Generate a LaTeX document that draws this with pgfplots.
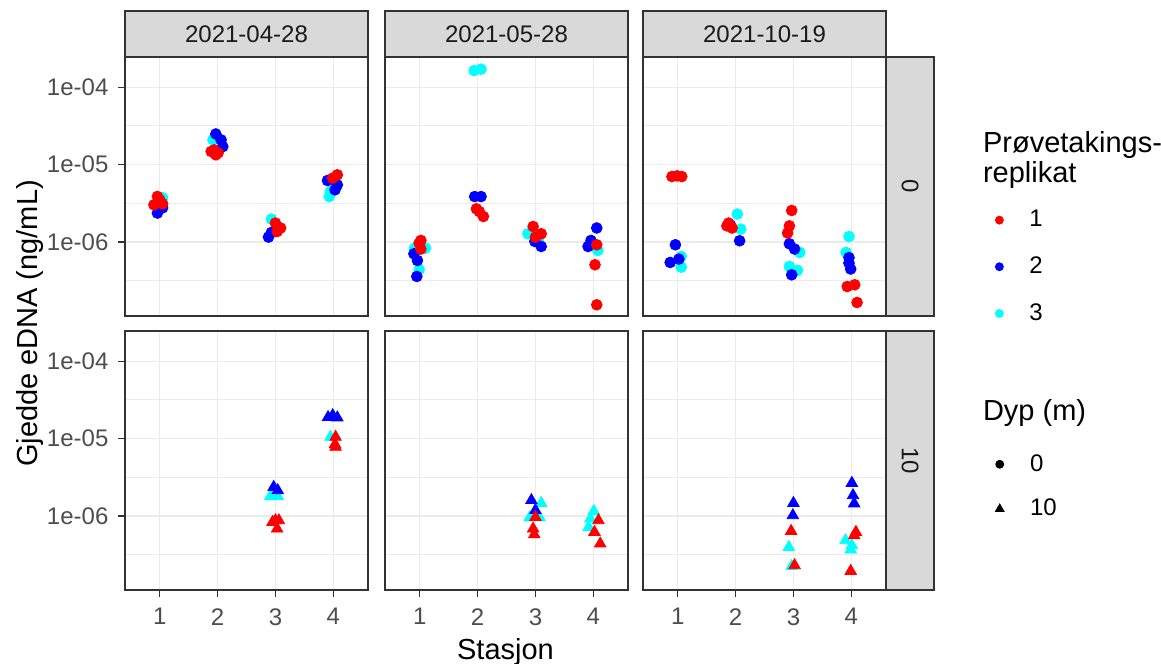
\documentclass[border=0pt]{standalone}
\usepackage{fontspec}
\setmainfont{Liberation Sans}
\usepackage{pgfplots}
\usepackage{pgfplotstable}
\pgfplotsset{compat=1.18}

\definecolor{rep1}{HTML}{FF0000}
\definecolor{rep2}{HTML}{0000FF}
\definecolor{rep3}{HTML}{00FFFF}
\definecolor{gridgrey}{HTML}{EBEBEB}
\definecolor{framegrey}{HTML}{333333}
\definecolor{tickgrey}{HTML}{4D4D4D}
\definecolor{stripgrey}{HTML}{D9D9D9}
\definecolor{striptext}{HTML}{1A1A1A}

\newcommand{\ticksize}{\fontsize{12bp}{14bp}\selectfont}
\newcommand{\titlesize}{\fontsize{14.5bp}{17bp}\selectfont}

% x = stasjon (with jitter), y = eDNA (ng/mL), r = replikat
% depth 0 m
\pgfplotstableread{
x y r
1.05 3.73e-6 3
0.96 2.37e-6 2
1.05 2.77e-6 2
0.96 3.88e-6 1
0.90 3.03e-6 1
1.05 3.12e-6 1
1.00 3.52e-6 1
1.92 2.09e-5 3
1.97 2.49e-5 2
2.06 2.09e-5 2
2.09 1.71e-5 2
1.94 1.55e-5 1
1.89 1.48e-5 1
1.97 1.34e-5 1
2.01 1.42e-5 1
2.93 1.98e-6 3
2.93 1.33e-6 2
2.88 1.16e-6 2
3.00 1.76e-6 1
3.09 1.52e-6 1
3.03 1.37e-6 1
3.95 4.50e-6 3
3.93 3.87e-6 3
3.90 6.24e-6 2
4.07 5.48e-6 2
4.03 4.73e-6 2
4.07 7.38e-6 1
3.99 6.70e-6 1
}\dataAzero
\pgfplotstableread{
x y r
1.10 8.38e-7 3
0.99 4.40e-7 3
0.91 8.30e-7 3
0.90 7.06e-7 2
0.96 5.79e-7 2
0.95 3.60e-7 2
1.02 1.05e-6 1
0.99 9.70e-7 1
1.02 8.13e-7 1
1.94 1.64e-4 3
2.06 1.71e-4 3
1.95 3.87e-6 2
2.06 3.87e-6 2
2.03 2.48e-6 1
2.10 2.14e-6 1
1.98 2.69e-6 1
2.87 1.28e-6 3
3.05 1.04e-6 3
2.99 1.02e-6 2
3.10 8.77e-7 2
2.96 1.59e-6 1
3.10 1.28e-6 1
3.00 1.16e-6 1
4.08 7.80e-7 3
4.06 1.52e-6 2
3.96 1.05e-6 2
3.91 8.77e-7 2
4.06 9.23e-7 1
4.03 5.09e-7 1
4.06 1.55e-7 1
}\dataBzero
\pgfplotstableread{
x y r
1.06 6.52e-7 3
1.06 4.75e-7 3
0.96 9.23e-7 2
1.02 6.04e-7 2
0.87 5.46e-7 2
0.90 7.02e-6 1
0.99 7.16e-6 1
1.07 7.02e-6 1
2.03 2.30e-6 3
2.09 1.47e-6 3
2.07 1.04e-6 2
1.91 1.66e-6 2
1.88 1.76e-6 1
1.94 1.52e-6 1
1.85 1.62e-6 1
3.11 7.35e-7 3
2.93 4.84e-7 3
3.07 4.31e-7 3
2.93 9.51e-7 2
3.02 8.13e-7 2
2.97 3.78e-7 2
2.97 2.56e-6 1
2.93 1.62e-6 1
2.90 1.31e-6 1
3.96 1.18e-6 3
3.91 7.35e-7 3
3.96 5.36e-7 2
3.99 4.49e-7 2
3.96 6.30e-7 2
3.93 2.67e-7 1
4.06 2.81e-7 1
4.10 1.66e-7 1
}\dataCzero
% depth 10 m
\pgfplotstableread{
x y r
2.91 1.80e-6 3
3.04 1.80e-6 3
2.97 2.37e-6 2
3.04 2.15e-6 2
3.00 8.79e-7 1
2.95 8.36e-7 1
3.06 8.79e-7 1
3.03 6.87e-7 1
3.95 1.05e-5 3
3.99 2.00e-5 2
4.07 1.87e-5 2
3.91 1.89e-5 2
4.04 1.05e-5 1
4.03 8.45e-6 1
4.04 7.80e-6 1
}\dataAten
\pgfplotstableread{
x y r
3.10 1.47e-6 3
2.90 9.53e-7 3
3.07 9.60e-7 3
2.93 1.60e-6 2
3.00 1.19e-6 2
3.00 9.70e-7 1
2.96 6.87e-7 1
2.98 5.79e-7 1
4.01 1.16e-6 3
3.95 9.25e-7 3
3.92 7.21e-7 3
4.09 8.79e-7 1
4.02 6.21e-7 1
4.12 4.40e-7 1
}\dataBten
\pgfplotstableread{
x y r
2.92 3.97e-7 3
2.97 2.25e-7 3
3.00 1.47e-6 2
2.99 1.02e-6 2
2.96 6.40e-7 1
3.02 2.31e-7 1
3.90 4.85e-7 3
3.99 3.68e-7 3
4.01 4.20e-7 3
4.01 2.67e-6 2
4.03 1.85e-6 2
4.05 1.45e-6 2
4.08 6.21e-7 1
4.05 5.62e-7 1
3.99 1.95e-7 1
}\dataCten

\begin{document}
\begin{tikzpicture}
\useasboundingbox (0,0) rectangle (580.5bp,-332bp);

% strips above the columns
\foreach \xl/\lab in {62.5/2021-04-28, 192.5/2021-05-28, 321.5/2021-10-19}{
  \draw[framegrey, line width=0.7bp, fill=stripgrey] (\xl bp,-5.5bp) rectangle ++(121.5bp,-23bp);
  \node[font=\ticksize, text=striptext] at ({\xl bp+60.75bp},-17.2bp) {\lab};
}
% strips right of the rows
\foreach \yt/\lab in {-28.5/0, -165.5/10}{
  \draw[framegrey, line width=0.7bp, fill=stripgrey] (443bp,\yt bp) rectangle ++(24bp,-129.5bp);
  \node[font=\ticksize, text=striptext, rotate=-90] at (455bp,{\yt bp-64.75bp}) {\lab};
}

% ---------- depth 0 m ----------
\begin{axis}[
    scale only axis, width=121.5bp, height=129.5bp, anchor=north west,
    at={(62.5bp,-28.5bp)},
    xmin=0.4, xmax=4.6, ymode=log, ymin=1.11e-7, ymax=2.455e-4,
    xtick={1,2,3,4}, xticklabels={},
    ytick={1e-6,1e-5,1e-4}, yticklabels={1e-06,1e-05,1e-04},
    minor ytick={3.1623e-7,3.1623e-6,3.1623e-5},
    grid=both,
    major grid style={draw=gridgrey, line width=0.65bp},
    minor grid style={draw=gridgrey, line width=0.45bp},
    axis line style={draw=framegrey, line width=0.7bp},
    tick align=outside, major tick length=3.5bp, minor tick length=0pt,
    ytick style={draw=framegrey, line width=0.6bp}, xtick style={draw=none},
    xtick pos=bottom, ytick pos=left,
    yticklabel style={font=\ticksize, text=tickgrey, xshift=-1.3bp},
  ]
  \addplot[scatter, only marks, scatter src=explicit symbolic,
    scatter/classes={1={rep1}, 2={rep2}, 3={rep3}}, mark=*, mark size=2.7bp]
    table[x=x,y=y,meta=r]{\dataAzero};
\end{axis}
\begin{axis}[
    scale only axis, width=121.5bp, height=129.5bp, anchor=north west,
    at={(192.5bp,-28.5bp)},
    xmin=0.4, xmax=4.6, ymode=log, ymin=1.11e-7, ymax=2.455e-4,
    xtick={1,2,3,4}, xticklabels={},
    ytick={1e-6,1e-5,1e-4}, yticklabels={},
    minor ytick={3.1623e-7,3.1623e-6,3.1623e-5},
    grid=both,
    major grid style={draw=gridgrey, line width=0.65bp},
    minor grid style={draw=gridgrey, line width=0.45bp},
    axis line style={draw=framegrey, line width=0.7bp},
    major tick length=0pt, minor tick length=0pt,
    tick style={draw=none},
  ]
  \addplot[scatter, only marks, scatter src=explicit symbolic,
    scatter/classes={1={rep1}, 2={rep2}, 3={rep3}}, mark=*, mark size=2.7bp]
    table[x=x,y=y,meta=r]{\dataBzero};
\end{axis}
\begin{axis}[
    scale only axis, width=121.5bp, height=129.5bp, anchor=north west,
    at={(321.5bp,-28.5bp)},
    xmin=0.4, xmax=4.6, ymode=log, ymin=1.11e-7, ymax=2.455e-4,
    xtick={1,2,3,4}, xticklabels={},
    ytick={1e-6,1e-5,1e-4}, yticklabels={},
    minor ytick={3.1623e-7,3.1623e-6,3.1623e-5},
    grid=both,
    major grid style={draw=gridgrey, line width=0.65bp},
    minor grid style={draw=gridgrey, line width=0.45bp},
    axis line style={draw=framegrey, line width=0.7bp},
    major tick length=0pt, minor tick length=0pt,
    tick style={draw=none},
  ]
  \addplot[scatter, only marks, scatter src=explicit symbolic,
    scatter/classes={1={rep1}, 2={rep2}, 3={rep3}}, mark=*, mark size=2.7bp]
    table[x=x,y=y,meta=r]{\dataCzero};
\end{axis}

% ---------- depth 10 m ----------
\begin{axis}[
    scale only axis, width=121.5bp, height=129.5bp, anchor=north west,
    at={(62.5bp,-165.5bp)},
    xmin=0.4, xmax=4.6, ymode=log, ymin=1.11e-7, ymax=2.455e-4,
    xtick={1,2,3,4}, xticklabels={1,2,3,4},
    ytick={1e-6,1e-5,1e-4}, yticklabels={1e-06,1e-05,1e-04},
    minor ytick={3.1623e-7,3.1623e-6,3.1623e-5},
    grid=both,
    major grid style={draw=gridgrey, line width=0.65bp},
    minor grid style={draw=gridgrey, line width=0.45bp},
    axis line style={draw=framegrey, line width=0.7bp},
    tick align=outside, major tick length=3.5bp, minor tick length=0pt,
    tick style={draw=framegrey, line width=0.6bp},
    xtick pos=bottom, ytick pos=left,
    xticklabel style={font=\ticksize, text=tickgrey, yshift=-2.2bp},
    yticklabel style={font=\ticksize, text=tickgrey, xshift=-1.3bp},
  ]
  \addplot[scatter, only marks, scatter src=explicit symbolic,
    scatter/classes={1={rep1}, 2={rep2}, 3={rep3}}, mark=triangle*, mark size=3.3bp]
    table[x=x,y=y,meta=r]{\dataAten};
\end{axis}
\begin{axis}[
    scale only axis, width=121.5bp, height=129.5bp, anchor=north west,
    at={(192.5bp,-165.5bp)},
    xmin=0.4, xmax=4.6, ymode=log, ymin=1.11e-7, ymax=2.455e-4,
    xtick={1,2,3,4}, xticklabels={1,2,3,4},
    ytick={1e-6,1e-5,1e-4}, yticklabels={},
    minor ytick={3.1623e-7,3.1623e-6,3.1623e-5},
    grid=both,
    major grid style={draw=gridgrey, line width=0.65bp},
    minor grid style={draw=gridgrey, line width=0.45bp},
    axis line style={draw=framegrey, line width=0.7bp},
    tick align=outside, major tick length=3.5bp, minor tick length=0pt,
    xtick style={draw=framegrey, line width=0.6bp}, ytick style={draw=none},
    xtick pos=bottom, ytick pos=left,
    xticklabel style={font=\ticksize, text=tickgrey, yshift=-2.2bp},
  ]
  \addplot[scatter, only marks, scatter src=explicit symbolic,
    scatter/classes={1={rep1}, 2={rep2}, 3={rep3}}, mark=triangle*, mark size=3.3bp]
    table[x=x,y=y,meta=r]{\dataBten};
\end{axis}
\begin{axis}[
    scale only axis, width=121.5bp, height=129.5bp, anchor=north west,
    at={(321.5bp,-165.5bp)},
    xmin=0.4, xmax=4.6, ymode=log, ymin=1.11e-7, ymax=2.455e-4,
    xtick={1,2,3,4}, xticklabels={1,2,3,4},
    ytick={1e-6,1e-5,1e-4}, yticklabels={},
    minor ytick={3.1623e-7,3.1623e-6,3.1623e-5},
    grid=both,
    major grid style={draw=gridgrey, line width=0.65bp},
    minor grid style={draw=gridgrey, line width=0.45bp},
    axis line style={draw=framegrey, line width=0.7bp},
    tick align=outside, major tick length=3.5bp, minor tick length=0pt,
    xtick style={draw=framegrey, line width=0.6bp}, ytick style={draw=none},
    xtick pos=bottom, ytick pos=left,
    xticklabel style={font=\ticksize, text=tickgrey, yshift=-2.2bp},
  ]
  \addplot[scatter, only marks, scatter src=explicit symbolic,
    scatter/classes={1={rep1}, 2={rep2}, 3={rep3}}, mark=triangle*, mark size=3.3bp]
    table[x=x,y=y,meta=r]{\dataCten};
\end{axis}

% axis titles
\node[font=\titlesize, rotate=90] at (15bp,-161.75bp) {Gjedde eDNA (ng/mL)};
\node[font=\titlesize, anchor=base] at (252.75bp,-329.5bp) {Stasjon};

% legend: replikat
\node[font=\titlesize, anchor=base west] at (488bp,-76.2bp) {Prøvetakings-};
\node[font=\titlesize, anchor=base west] at (488bp,-91bp) {replikat};
\begin{axis}[hide axis, scale only axis, width=10bp, height=10bp,
  at={(497.5bp,-103bp)}, anchor=north west, xmin=0, xmax=1, ymin=0, ymax=1,
  legend image code/.code={\draw[#1] plot coordinates {(0bp,0bp)};},
  legend style={at={(0,1)}, anchor=north west, draw=none, fill=none,
    inner sep=0pt, font=\ticksize, row sep=9.5bp, column sep=11bp},
  legend cell align=left]
  \addlegendimage{only marks, mark=*, mark size=2bp, rep1}
  \addlegendentry{1}
  \addlegendimage{only marks, mark=*, mark size=2bp, rep2}
  \addlegendentry{2}
  \addlegendimage{only marks, mark=*, mark size=2bp, rep3}
  \addlegendentry{3}
\end{axis}

% legend: depth
\node[font=\titlesize, anchor=base west] at (488bp,-210bp) {Dyp (m)};
\begin{axis}[hide axis, scale only axis, width=10bp, height=10bp,
  at={(497.5bp,-225bp)}, anchor=north west, xmin=0, xmax=1, ymin=0, ymax=1,
  legend image code/.code={\draw[#1] plot coordinates {(0bp,0bp)};},
  legend style={at={(0,1)}, anchor=north west, draw=none, fill=none,
    inner sep=0pt, font=\ticksize, row sep=8.5bp, column sep=11bp},
  legend cell align=left]
  \addlegendimage{only marks, mark=*, mark size=2bp, black}
  \addlegendentry{0}
  \addlegendimage{only marks, mark=triangle*, mark size=2.5bp, black}
  \addlegendentry{10}
\end{axis}
\end{tikzpicture}
\end{document}
